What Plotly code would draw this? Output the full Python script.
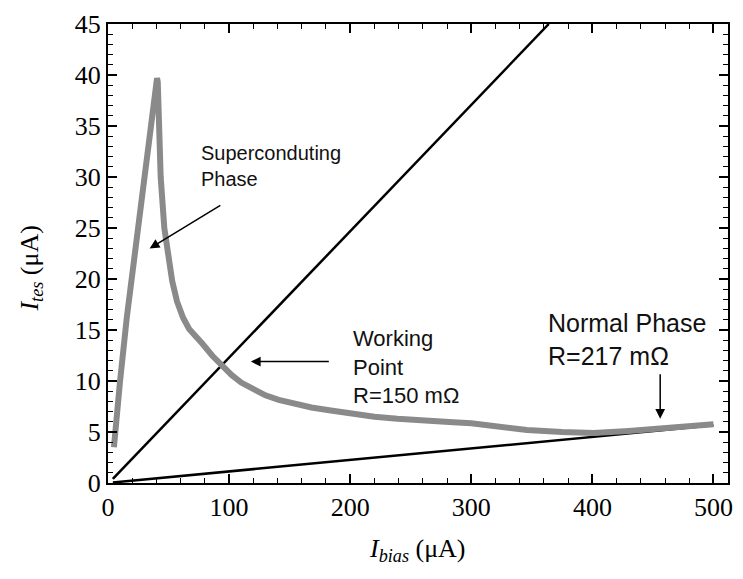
import plotly.graph_objects as go

# Measured I-V curve of the TES (grey)
curve_x = [4.9, 7, 9.8, 15.5, 22, 28.9, 34.4, 37.5, 39.0, 39.8, 40.5, 41.1, 41.5, 41.9, 43.5, 46.5, 49.5,
           53, 57, 62, 67, 72, 78, 86, 94, 102, 110, 120, 130, 141, 152, 168, 184, 200, 220, 239, 264,
           285, 300, 319, 346, 375, 401, 430, 455, 480, 500]
curve_y = [3.5, 6.5, 9.8, 16.2, 22.5, 28.6, 34.4, 37.5, 39.0, 39.6, 39.7, 39.3, 38.0, 35, 30, 25, 22.4,
           19.8, 17.8, 16.2, 15.1, 14.35, 13.65, 12.5, 11.5, 10.6, 9.85, 9.15, 8.6, 8.15, 7.8, 7.4, 7.1,
           6.8, 6.5, 6.3, 6.05, 5.95, 5.85, 5.6, 5.2, 5.0, 4.9, 5.1, 5.35, 5.55, 5.75]

# Load lines (black)
wp_x = [4, 364]
wp_y = [0.4, 45]
np_x = [4, 500]
np_y = [0.05, 5.65]

xticks = [0, 100, 200, 300, 400, 500]
yticks = [0, 5, 10, 15, 20, 25, 30, 35, 40, 45]

fig = go.Figure()
fig.add_trace(go.Scatter(x=wp_x, y=wp_y, mode="lines", line=dict(color="black", width=2.5), showlegend=False))
fig.add_trace(go.Scatter(x=np_x, y=np_y, mode="lines", line=dict(color="black", width=2.5), showlegend=False))
fig.add_trace(go.Scatter(x=curve_x, y=curve_y, mode="lines",
                         line=dict(color="#8a8a8a", width=6, shape="linear"), showlegend=False))

axis_common = dict(showgrid=False, zeroline=False, showline=True, linecolor="black", linewidth=2,
                   mirror="allticks", ticks="inside", tickcolor="black", tickwidth=1.5,
                   tickfont=dict(family="Liberation Serif", size=26, color="black"))

fig.update_xaxes(range=[0, 512], tickvals=xticks, ticklen=9,
                 minor=dict(dtick=20, ticks="inside", ticklen=5, tickcolor="black", tickwidth=1.2),
                 **axis_common)
fig.update_yaxes(range=[0, 45], tickvals=yticks, ticklen=9,
                 minor=dict(dtick=1, ticks="inside", ticklen=5, tickcolor="black", tickwidth=1.2),
                 **axis_common)

tfont = dict(family="Liberation Sans", color="#111111")
ann = []
ann.append(dict(x=75.4, y=31.1, xref="x", yref="y", text="Superconduting<br>Phase", showarrow=False,
                xanchor="left", yanchor="middle", align="left", font=dict(size=20, **tfont)))
ann.append(dict(x=200.7, y=11.37, xref="x", yref="y", text="Working<br>Point<br>R=150 mΩ", showarrow=False,
                xanchor="left", yanchor="middle", align="left", font=dict(size=22, **tfont)))
ann.append(dict(x=362, y=14.06, xref="x", yref="y", text="Normal Phase<br>R=217 mΩ", showarrow=False,
                xanchor="left", yanchor="middle", align="left", font=dict(size=25, **tfont)))
# arrows
arrows = [((94, 27.3), (34.4, 23.0)), ((183.6, 11.9), (118, 11.9)), ((456, 10.8), (456, 6.3))]
for (tx, ty), (hx, hy) in arrows:
    ann.append(dict(x=hx, y=hy, ax=tx, ay=ty, xref="x", yref="y", axref="x", ayref="y", text="",
                    showarrow=True, arrowhead=2, arrowsize=1.3, arrowwidth=1.5, arrowcolor="black"))

L, R, T, B = 108, 10, 22, 96
W, H = 743, 579
pw, ph = W - L - R, H - T - B
# axis titles (pixel centres converted to paper coords)
ann.append(dict(x=(420 - L) / pw, y=(H - 550 - B) / ph, xref="paper", yref="paper",
                xanchor="center", yanchor="middle",
                text="<i>I</i><sub><i>bias</i></sub> (μA)",
                showarrow=False, font=dict(family="Liberation Serif", size=26, color="black")))
ann.append(dict(x=(30 - L) / pw, y=(H - 268 - B) / ph, xref="paper", yref="paper",
                xanchor="center", yanchor="middle",
                text="<i>I</i><sub><i>tes</i></sub> (μA)",
                showarrow=False, textangle=-90, font=dict(family="Liberation Serif", size=26, color="black")))

fig.update_layout(width=W, height=H, margin=dict(l=L, r=R, t=T, b=B),
                  plot_bgcolor="white", paper_bgcolor="white", annotations=ann)
fig.write_html("out.html")
